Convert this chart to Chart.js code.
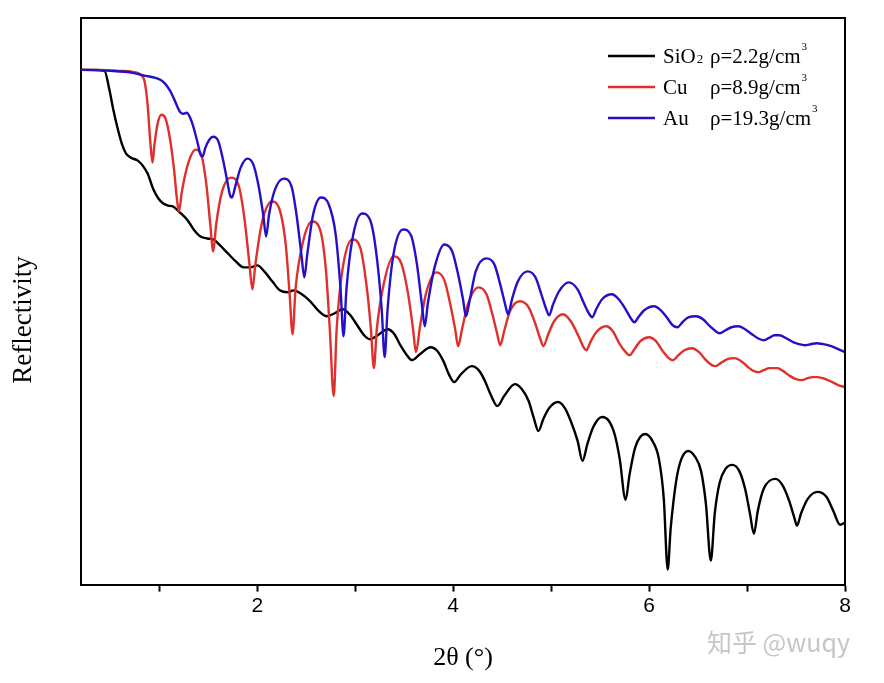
<!DOCTYPE html>
<html>
<head>
<meta charset="utf-8">
<script src="https://cdn.jsdelivr.net/npm/chart.js@4.4.1/dist/chart.umd.min.js"></script>
<style>
html, body { margin: 0; padding: 0; background: #fff; }
canvas { display: block; }
</style>
</head>
<body>
<canvas id="xrr" width="884" height="683"></canvas>
<script>
// 2theta in degrees, log10 reflectivity (arbitrary offset)
const sio2Angle = [0.20,0.35,0.44,0.49,0.53,0.57,0.62,0.66,0.71,0.78,0.83,0.88,0.94,0.99,1.04,1.09,1.14,1.21,1.29,1.35,1.42,1.49,1.55,1.62,1.69,1.78,1.86,1.93,2.00,2.08,2.16,2.23,2.31,2.37,2.44,2.54,2.62,2.71,2.79,2.87,2.95,3.02,3.09,3.15,3.23,3.33,3.40,3.46,3.52,3.58,3.66,3.77,3.84,3.90,3.96,4.01,4.08,4.19,4.26,4.32,4.38,4.45,4.52,4.63,4.70,4.77,4.82,4.87,4.92,4.98,5.07,5.14,5.20,5.27,5.32,5.37,5.43,5.52,5.59,5.65,5.70,5.76,5.80,5.86,5.96,6.04,6.10,6.15,6.19,6.22,6.28,6.33,6.40,6.47,6.53,6.58,6.63,6.67,6.72,6.78,6.85,6.92,6.98,7.03,7.07,7.11,7.17,7.29,7.36,7.43,7.48,7.51,7.55,7.62,7.72,7.81,7.88,7.95,8.00]
const sio2Logr = [0,0,-0.02,-0.40,-0.80,-1.14,-1.50,-1.68,-1.76,-1.82,-1.92,-2.08,-2.40,-2.58,-2.68,-2.72,-2.74,-2.86,-3.02,-3.20,-3.34,-3.38,-3.40,-3.52,-3.66,-3.84,-3.96,-3.96,-3.92,-4.06,-4.26,-4.42,-4.46,-4.42,-4.48,-4.64,-4.82,-4.94,-4.88,-4.80,-4.92,-5.12,-5.32,-5.40,-5.32,-5.20,-5.30,-5.52,-5.70,-5.82,-5.70,-5.56,-5.64,-5.84,-6.12,-6.26,-6.10,-5.94,-6.02,-6.22,-6.50,-6.74,-6.54,-6.30,-6.40,-6.64,-6.96,-7.24,-7.00,-6.78,-6.66,-6.78,-7.04,-7.44,-7.84,-7.50,-7.16,-6.96,-7.04,-7.32,-7.80,-8.62,-8.12,-7.56,-7.30,-7.46,-7.80,-8.60,-10.02,-9.20,-8.20,-7.80,-7.64,-7.76,-8.04,-8.70,-9.84,-8.90,-8.28,-8.00,-7.92,-8.04,-8.40,-8.90,-9.30,-8.84,-8.40,-8.20,-8.32,-8.64,-8.96,-9.14,-8.90,-8.60,-8.46,-8.56,-8.84,-9.12,-9.08]

const cuAngle = [0.20,0.40,0.60,0.73,0.81,0.85,0.88,0.91,0.93,0.95,0.98,1.02,1.06,1.11,1.15,1.18,1.20,1.23,1.29,1.37,1.43,1.48,1.52,1.55,1.58,1.64,1.73,1.81,1.87,1.92,1.95,1.98,2.05,2.15,2.22,2.29,2.33,2.36,2.39,2.46,2.56,2.64,2.70,2.74,2.78,2.81,2.87,2.97,3.05,3.12,3.16,3.19,3.22,3.29,3.39,3.47,3.54,3.59,3.62,3.66,3.72,3.83,3.91,3.97,4.02,4.05,4.09,4.15,4.26,4.34,4.40,4.45,4.48,4.52,4.58,4.68,4.77,4.84,4.89,4.92,4.97,5.03,5.12,5.20,5.28,5.33,5.36,5.40,5.46,5.56,5.63,5.70,5.77,5.80,5.85,5.91,6.00,6.07,6.14,6.20,6.24,6.30,6.36,6.44,6.51,6.58,6.64,6.68,6.73,6.80,6.87,6.94,7.01,7.07,7.12,7.17,7.23,7.31,7.37,7.44,7.50,7.56,7.62,7.67,7.72,7.80,7.87,7.93,8.00]
const cuLogr = [0,0,-0.02,-0.04,-0.10,-0.24,-0.70,-1.50,-1.86,-1.50,-1.10,-0.90,-0.96,-1.40,-2.00,-2.60,-2.84,-2.44,-1.90,-1.60,-1.72,-2.30,-3.10,-3.64,-3.10,-2.44,-2.16,-2.32,-3.00,-3.90,-4.40,-3.90,-3.04,-2.64,-2.76,-3.50,-4.50,-5.30,-4.40,-3.50,-3.04,-3.20,-4.00,-5.20,-6.54,-5.20,-4.00,-3.40,-3.56,-4.40,-5.20,-5.98,-5.20,-4.30,-3.74,-3.88,-4.50,-5.20,-5.66,-5.16,-4.50,-4.06,-4.22,-4.70,-5.20,-5.54,-5.20,-4.70,-4.36,-4.50,-4.90,-5.30,-5.52,-5.24,-4.84,-4.64,-4.76,-5.10,-5.40,-5.54,-5.30,-5.04,-4.90,-5.04,-5.34,-5.56,-5.62,-5.46,-5.26,-5.14,-5.24,-5.50,-5.68,-5.72,-5.60,-5.44,-5.36,-5.44,-5.64,-5.78,-5.82,-5.72,-5.62,-5.58,-5.66,-5.82,-5.92,-5.94,-5.88,-5.80,-5.78,-5.84,-5.96,-6.04,-6.06,-6.02,-5.98,-5.98,-6.04,-6.14,-6.20,-6.22,-6.18,-6.16,-6.16,-6.20,-6.26,-6.32,-6.36]

const auAngle = [0.20,0.50,0.73,0.86,0.96,1.01,1.06,1.11,1.14,1.18,1.21,1.24,1.28,1.31,1.35,1.39,1.42,1.44,1.47,1.51,1.55,1.60,1.65,1.69,1.72,1.74,1.78,1.83,1.90,1.96,2.01,2.06,2.09,2.12,2.18,2.27,2.35,2.40,2.45,2.48,2.51,2.57,2.65,2.73,2.80,2.85,2.88,2.91,2.97,3.07,3.15,3.21,3.27,3.30,3.33,3.39,3.49,3.57,3.63,3.68,3.71,3.74,3.81,3.91,3.99,4.05,4.10,4.13,4.17,4.23,4.34,4.42,4.48,4.53,4.56,4.60,4.66,4.76,4.84,4.90,4.95,4.98,5.02,5.08,5.18,5.27,5.33,5.39,5.42,5.46,5.52,5.62,5.69,5.76,5.82,5.85,5.89,5.95,6.05,6.12,6.18,6.24,6.29,6.34,6.40,6.48,6.55,6.62,6.68,6.72,6.78,6.84,6.91,6.98,7.05,7.11,7.17,7.22,7.28,7.33,7.40,7.47,7.53,7.59,7.65,7.71,7.78,7.86,7.93,8.00]
const auLogr = [0,-0.02,-0.06,-0.12,-0.16,-0.20,-0.28,-0.42,-0.54,-0.72,-0.84,-0.88,-0.86,-0.94,-1.16,-1.46,-1.70,-1.74,-1.56,-1.40,-1.34,-1.42,-1.80,-2.20,-2.50,-2.56,-2.30,-1.96,-1.78,-1.90,-2.30,-2.90,-3.34,-2.90,-2.40,-2.18,-2.34,-2.90,-3.70,-4.16,-3.70,-2.90,-2.56,-2.70,-3.30,-4.40,-5.34,-4.40,-3.40,-2.88,-3.00,-3.60,-4.80,-5.76,-4.80,-3.70,-3.20,-3.32,-3.90,-4.70,-5.14,-4.70,-3.96,-3.50,-3.64,-4.10,-4.60,-4.94,-4.60,-4.04,-3.78,-3.90,-4.30,-4.70,-4.90,-4.60,-4.24,-4.04,-4.16,-4.50,-4.80,-4.92,-4.70,-4.44,-4.26,-4.40,-4.66,-4.90,-4.96,-4.80,-4.60,-4.50,-4.60,-4.80,-5.00,-5.06,-4.96,-4.82,-4.74,-4.82,-4.96,-5.12,-5.16,-5.06,-4.96,-4.94,-5.00,-5.14,-5.24,-5.28,-5.22,-5.16,-5.14,-5.20,-5.30,-5.38,-5.42,-5.38,-5.32,-5.32,-5.38,-5.46,-5.50,-5.52,-5.50,-5.48,-5.50,-5.54,-5.60,-5.66]

const xTicks = [1, 2, 3, 4, 5, 6, 7, 8]
const xTickLabels = ['', '2', '', '4', '', '6', '', '8']

const legendNames = ['SiO₂', 'Cu', 'Au']
const legendDensity = ['ρ=2.2g/cm³', 'ρ=8.9g/cm³', 'ρ=19.3g/cm³']
const lineColors = ['#000000', '#e0302c', '#2410c8']
const yTitle = 'Reflectivity'

function pairs(xs, ys) {
	return xs.map((x, i) => ({x: x, y: ys[i]}))
}

// text with a trailing small sub/superscript digit
function draw_rich(ctx, text, x, y) {
	let main = text, tail = '', shift = 0
	if (text.endsWith('₂')) { main = text.slice(0, -1); tail = '2'; shift = 0 }
	if (text.endsWith('³')) { main = text.slice(0, -1); tail = '3'; shift = -13 }
	ctx.font = '21px "Liberation Serif"'
	ctx.fillText(main, x, y)
	if (tail) {
		const w = ctx.measureText(main).width
		ctx.font = (tail == '3' ? '11px' : '13px') + ' "Liberation Serif"'
		ctx.fillText(tail, x + w + 1, y + shift)
	}
}

const frame_plugin = {
	id: 'frame_legend',
	afterDraw(chart) {
		const ctx = chart.ctx
		const a = chart.chartArea
		ctx.save()
		ctx.strokeStyle = '#000'
		ctx.lineWidth = 2
		ctx.beginPath()
		ctx.moveTo(a.left, a.top)
		ctx.lineTo(a.right, a.top)
		ctx.lineTo(a.right, a.bottom)
		ctx.stroke()

		// y axis title, sits a bit below the middle of the axis
		ctx.save()
		ctx.translate(24, 320)
		ctx.rotate(-Math.PI / 2)
		ctx.font = '27px "Liberation Serif"'
		ctx.fillStyle = '#000'
		ctx.textAlign = 'center'
		ctx.textBaseline = 'middle'
		ctx.fillText(yTitle, 0, 0)
		ctx.restore()

		// legend, top right inside the frame
		ctx.textBaseline = 'alphabetic'
		ctx.fillStyle = '#000'
		legendNames.forEach((name, i) => {
			const y = a.top + 38 + i * 31
			const x0 = a.right - 237
			ctx.strokeStyle = lineColors[i]
			ctx.lineWidth = 2.4
			ctx.beginPath()
			ctx.moveTo(x0, y)
			ctx.lineTo(x0 + 47, y)
			ctx.stroke()
			draw_rich(ctx, name, a.right - 182, y + 7)
			draw_rich(ctx, legendDensity[i], a.right - 135, y + 7)
		})

		// watermark
		ctx.font = '25px "Noto Sans CJK SC"'
		ctx.fillStyle = '#c6c6c6'
		ctx.textBaseline = 'middle'
		ctx.fillText('知乎 @wuqy', 707, 642)
		ctx.restore()
	}
}

const chart = new Chart(document.getElementById('xrr'), {
	type: 'line',
	data: {
		datasets: [
			{label: 'SiO2', data: pairs(sio2Angle, sio2Logr), borderColor: lineColors[0], order: 3},
			{label: 'Cu', data: pairs(cuAngle, cuLogr), borderColor: lineColors[1], order: 2},
			{label: 'Au', data: pairs(auAngle, auLogr), borderColor: lineColors[2], order: 1}
		]
	},
	options: {
		responsive: false,
		animation: false,
		events: [],
		layout: {padding: {left: 81, right: 39, top: 18, bottom: 9}},
		elements: {
			line: {borderWidth: 2.4, cubicInterpolationMode: 'monotone', fill: false},
			point: {radius: 0}
		},
		plugins: {legend: {display: false}, tooltip: {enabled: false}},
		scales: {
			x: {
				type: 'linear',
				min: 0.2,
				max: 8,
				afterBuildTicks: (scale) => { scale.ticks = xTicks.map(v => ({value: v})) },
				ticks: {
					autoSkip: false,
					maxRotation: 0,
					padding: 2,
					color: '#000',
					font: {family: 'Liberation Sans', size: 21},
					callback: (v, i) => xTickLabels[i]
				},
				grid: {drawOnChartArea: false, drawTicks: true, tickLength: 7, tickWidth: 2, tickColor: '#000'},
				border: {display: true, color: '#000', width: 2},
				title: {
					display: true,
					text: '2θ (°)',
					color: '#000',
					font: {family: 'Liberation Serif', size: 26, weight: 'normal'},
					padding: {top: 22, bottom: 0}
				}
			},
			y: {
				type: 'linear',
				min: -10.32,
				max: 1.04,
				ticks: {display: false},
				grid: {display: false, drawTicks: false},
				border: {display: true, color: '#000', width: 2},
				title: {display: false}
			}
		}
	},
	plugins: [frame_plugin]
})
</script>
</body>
</html>
